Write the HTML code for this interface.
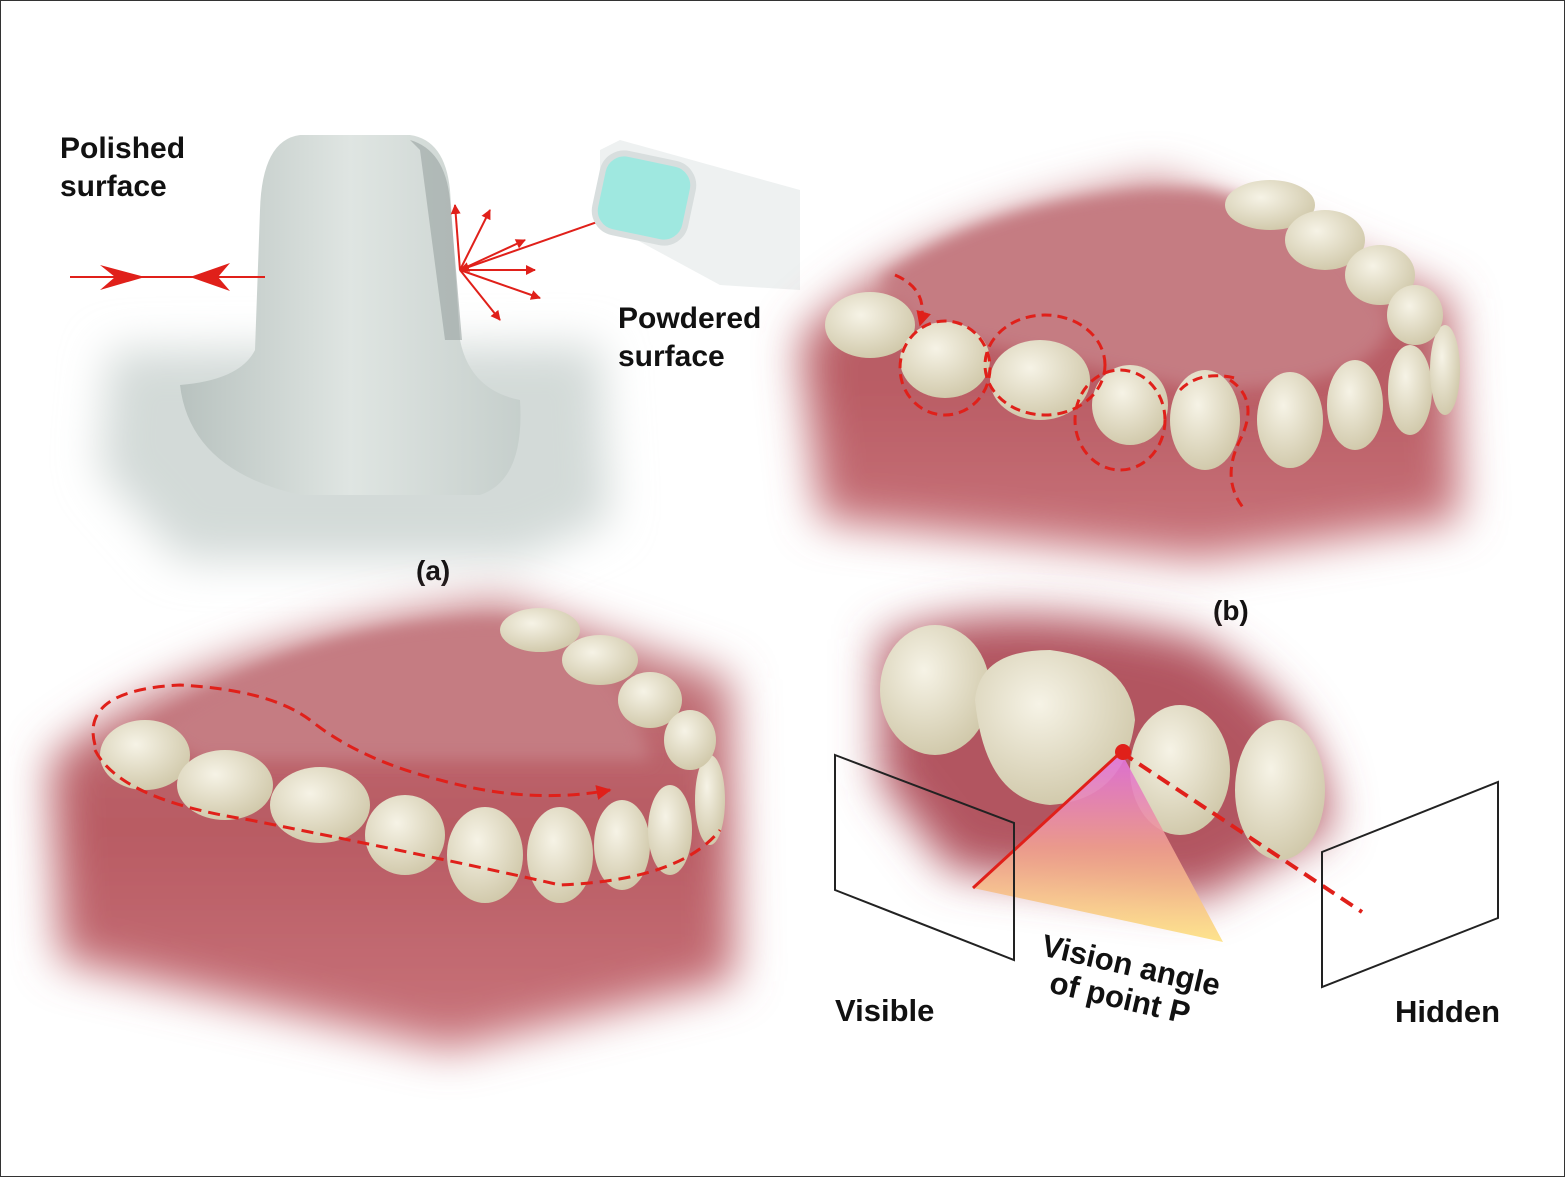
<!DOCTYPE html>
<html><head><meta charset="utf-8"><style>
html,body{margin:0;padding:0;background:#fff}
svg{display:block}
text{font-family:"Liberation Sans",sans-serif;font-weight:bold;fill:#111}
</style></head><body>
<svg width="1565" height="1177" viewBox="0 0 1565 1177" xmlns="http://www.w3.org/2000/svg">
<defs>
<filter id="b20" x="-30%" y="-30%" width="160%" height="160%"><feGaussianBlur stdDeviation="22"/></filter>
<filter id="b8" x="-20%" y="-20%" width="140%" height="140%"><feGaussianBlur stdDeviation="8"/></filter>
<linearGradient id="tri" x1="0" y1="0" x2="0" y2="1"><stop offset="0" stop-color="#e070e0"/><stop offset="0.5" stop-color="#f0a090"/><stop offset="1" stop-color="#fde080"/></linearGradient>
<radialGradient id="tooth" cx="0.4" cy="0.35" r="0.7"><stop offset="0" stop-color="#f6f3e6"/><stop offset="1" stop-color="#cfc7a8"/></radialGradient>
<linearGradient id="gray" x1="0" y1="0" x2="1" y2="0"><stop offset="0" stop-color="#b8c2bf"/><stop offset="0.5" stop-color="#dfe5e2"/><stop offset="1" stop-color="#c6cfcc"/></linearGradient>
<linearGradient id="gumA" x1="0" y1="0" x2="0" y2="1"><stop offset="0" stop-color="#c47a80"/><stop offset="0.5" stop-color="#b85a62"/><stop offset="1" stop-color="#c9757c"/></linearGradient>
<marker id="ar" viewBox="0 0 10 10" refX="9" refY="5" markerWidth="5" markerHeight="5" orient="auto"><path d="M0,0L10,5L0,10z" fill="#e0201a"/></marker>
</defs>
<rect x="0.5" y="0.5" width="1564" height="1176" fill="#fff" stroke="#333"/>

<!-- Panel a -->
<path d="M110,350 L600,345 L610,520 L520,560 L180,560 L100,470 Z" fill="#d3dad8" filter="url(#b20)"/>
<path d="M180,385 Q240,380 255,350 L260,210 Q262,140 300,135 L410,135 Q445,140 450,190 L460,340 Q470,390 520,400 Q525,480 480,495 L300,495 Q190,470 180,385Z" fill="url(#gray)"/>
<path d="M410,140 Q445,150 450,200 L462,340 L445,340 L420,150Z" fill="#9aa3a1" opacity="0.6"/>
<line x1="70" y1="277" x2="265" y2="277" stroke="#e0201a" stroke-width="2"/>
<path d="M100,265 L145,277 L100,290 L115,277Z" fill="#e0201a"/>
<path d="M230,263 L190,277 L230,291 L218,277Z" fill="#e0201a"/>
<g stroke="#e0201a" stroke-width="2" fill="none" marker-end="url(#ar)">
<line x1="660" y1="200" x2="460" y2="270"/>
<line x1="460" y1="270" x2="455" y2="205"/>
<line x1="460" y1="270" x2="490" y2="210"/>
<line x1="460" y1="270" x2="525" y2="240"/>
<line x1="460" y1="270" x2="535" y2="270"/>
<line x1="460" y1="270" x2="540" y2="298"/>
<line x1="460" y1="270" x2="500" y2="320"/>
</g>
<path d="M600,150 L620,140 L800,190 L800,290 L720,285 L600,220Z" fill="#eef1f1"/>
<rect x="598" y="158" width="92" height="80" rx="22" fill="#9fe8e0" stroke="#d8dede" stroke-width="6" transform="rotate(12 644 198)"/>
<text x="60" y="158" font-size="30">Polished</text>
<text x="60" y="196" font-size="30">surface</text>
<text x="618" y="328" font-size="30">Powdered</text>
<text x="618" y="366" font-size="30">surface</text>
<text x="416" y="580" font-size="28">(a)</text>

<!-- Panel b top -->
<path d="M800,340 Q900,230 1160,180 L1450,300 L1460,520 L1200,560 L820,520 Z" fill="url(#gumA)" filter="url(#b20)"/>
<path d="M880,280 Q1000,190 1200,190 Q1330,210 1390,320 Q1380,390 1200,390 L920,330Z" fill="#c57c82" filter="url(#b8)"/>
<g fill="url(#tooth)">
<ellipse cx="870" cy="325" rx="45" ry="33"/><ellipse cx="945" cy="360" rx="45" ry="38"/>
<ellipse cx="1040" cy="380" rx="50" ry="40"/><ellipse cx="1130" cy="405" rx="38" ry="40"/>
<ellipse cx="1205" cy="420" rx="35" ry="50"/><ellipse cx="1290" cy="420" rx="33" ry="48"/>
<ellipse cx="1355" cy="405" rx="28" ry="45"/><ellipse cx="1410" cy="390" rx="22" ry="45"/>
<ellipse cx="1445" cy="370" rx="15" ry="45"/>
<ellipse cx="1270" cy="205" rx="45" ry="25"/><ellipse cx="1325" cy="240" rx="40" ry="30"/>
<ellipse cx="1380" cy="275" rx="35" ry="30"/><ellipse cx="1415" cy="315" rx="28" ry="30"/>
</g>
<g stroke="#e0201a" stroke-width="3" fill="none" stroke-dasharray="10,6">
<path d="M895,275 Q930,290 920,325" marker-end="url(#ar)"/>
<ellipse cx="945" cy="368" rx="45" ry="47"/>
<ellipse cx="1045" cy="365" rx="60" ry="50"/>
<ellipse cx="1120" cy="420" rx="45" ry="50"/>
<path d="M1230,380 Q1260,400 1240,440 Q1220,480 1245,510"/>
<path d="M1180,390 Q1200,370 1235,378"/>
</g>
<text x="1213" y="620" font-size="28">(b)</text>

<!-- Bottom left -->
<path d="M50,760 Q200,640 500,600 L730,680 L735,980 L450,1050 L60,960Z" fill="url(#gumA)" filter="url(#b20)"/>
<path d="M150,730 Q300,620 500,620 Q620,640 650,760 L200,760Z" fill="#c57c82" filter="url(#b8)"/>
<g fill="url(#tooth)">
<ellipse cx="145" cy="755" rx="45" ry="35"/><ellipse cx="225" cy="785" rx="48" ry="35"/>
<ellipse cx="320" cy="805" rx="50" ry="38"/><ellipse cx="405" cy="835" rx="40" ry="40"/>
<ellipse cx="485" cy="855" rx="38" ry="48"/><ellipse cx="560" cy="855" rx="33" ry="48"/>
<ellipse cx="622" cy="845" rx="28" ry="45"/><ellipse cx="670" cy="830" rx="22" ry="45"/>
<ellipse cx="710" cy="800" rx="15" ry="45"/>
<ellipse cx="540" cy="630" rx="40" ry="22"/><ellipse cx="600" cy="660" rx="38" ry="25"/>
<ellipse cx="650" cy="700" rx="32" ry="28"/><ellipse cx="690" cy="740" rx="26" ry="30"/>
</g>
<g stroke="#e0201a" stroke-width="3" fill="none" stroke-dasharray="12,7">
<path d="M95,745 Q80,690 180,685 Q270,690 310,720 Q360,760 440,780 Q530,805 610,790" marker-end="url(#ar)"/>
<path d="M95,750 Q120,800 250,820 Q450,860 560,885 Q680,880 720,830"/>
</g>

<!-- Bottom right -->
<path d="M880,640 Q1000,590 1200,640 Q1330,720 1330,830 L1200,900 L950,870 L880,780Z" fill="#b25560" filter="url(#b20)"/>
<g fill="url(#tooth)">
<ellipse cx="935" cy="690" rx="55" ry="65"/>
<path d="M975,700 Q980,650 1050,650 Q1130,660 1135,720 Q1125,800 1050,805 Q985,800 975,700Z"/>
<ellipse cx="1180" cy="770" rx="50" ry="65"/>
<ellipse cx="1280" cy="790" rx="45" ry="70"/>
</g>
<polygon points="1121,752 973,888 1223,942" fill="url(#tri)" opacity="0.9"/>
<line x1="1121" y1="752" x2="973" y2="888" stroke="#e0201a" stroke-width="3"/>
<line x1="1121" y1="752" x2="1362" y2="912" stroke="#e0201a" stroke-width="4" stroke-dasharray="14,8"/>
<circle cx="1123" cy="752" r="8" fill="#e0201a"/>
<polygon points="835,755 1014,823 1014,960 835,890" fill="none" stroke="#222" stroke-width="2"/>
<polygon points="1322,852 1498,782 1498,918 1322,987" fill="none" stroke="#222" stroke-width="2"/>
<text x="835" y="1021" font-size="31">Visible</text>
<text x="1395" y="1022" font-size="31">Hidden</text>
<text x="1040" y="955" font-size="31" transform="rotate(13 1040 955)">Vision angle</text>
<text x="1048" y="992" font-size="31" transform="rotate(13 1048 992)">of point P</text>
</svg>
</body></html>
